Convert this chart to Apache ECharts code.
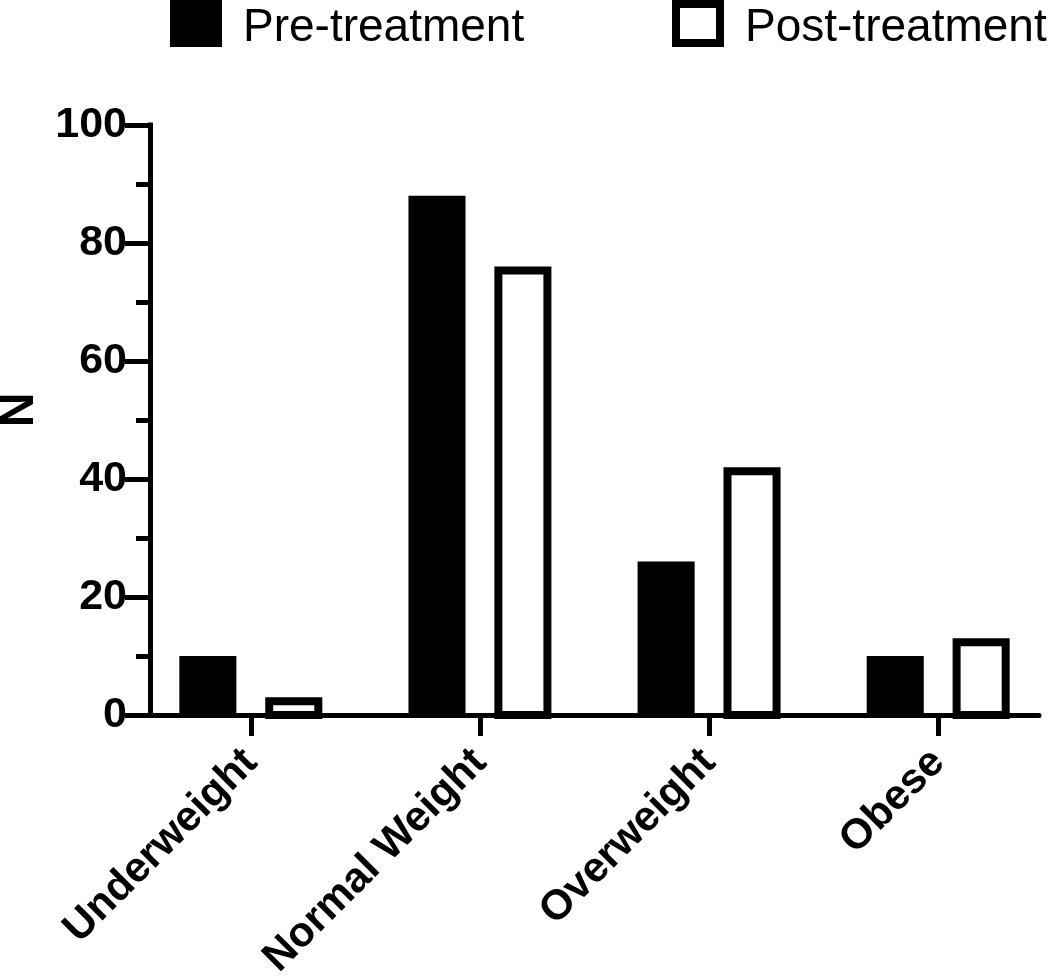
<!DOCTYPE html>
<html><head><meta charset="utf-8">
<script src="https://cdn.jsdelivr.net/npm/echarts@6/dist/echarts.min.js"></script>
<style>html,body{margin:0;padding:0;background:#fff}#c{width:1050px;height:977px}</style>
</head><body><div id="c"></div>
<script>
const categories = ['Underweight', 'Normal Weight', 'Overweight', 'Obese'];
const preTreatment = [10, 88, 26, 10];
const postTreatment = [3, 76, 42, 13];
const yTicks = [0, 20, 40, 60, 80, 100];
const seriesNames = ['Pre-treatment', 'Post-treatment'];

const FONT = '"Liberation Sans", Arial, Helvetica, sans-serif';
const BAR_W = 0.249, BAR_OFF = 0.1875, BORDER = 8;
const catIdx = categories.map((c, i) => i);

function barRenderer(side, hollow) {
  return function (params, api) {
    const i = api.value(0), v = api.value(1);
    const top = api.coord([i, v]);
    const base = api.coord([i, 0]);
    const band = api.size([1, 0])[0];
    const w = band * BAR_W;
    const x0 = top[0] + side * band * BAR_OFF - w / 2;
    if (!hollow) {
      return { type: 'rect', shape: { x: x0, y: top[1], width: w, height: base[1] - top[1] }, style: { fill: '#000' } };
    }
    const h = BORDER / 2;
    return { type: 'rect', shape: { x: x0 + h, y: top[1] + h, width: w - BORDER, height: Math.max(0, base[1] - top[1] - h) },
      style: { fill: '#fff', stroke: '#000', lineWidth: BORDER } };
  };
}

const chart = echarts.init(document.getElementById('c'), null, { renderer: 'canvas' });
const legendText = { fontSize: 46, color: '#000', fontFamily: FONT,
  rich: { t: { fontSize: 46, color: '#000', fontFamily: FONT, padding: [10, 0, 0, 16] } } };
chart.setOption({
  animation: false,
  backgroundColor: '#fff',
  legend: [
    { left: 170, top: 0, padding: 0, itemWidth: 52, itemHeight: 47, selectedMode: false, textStyle: legendText,
      formatter: '{t|{name}}',
      data: [{ name: seriesNames[0], icon: 'rect', itemStyle: { color: '#000' } }] },
    { left: 672, top: 0, padding: 0, itemWidth: 52, itemHeight: 47, selectedMode: false, textStyle: legendText,
      formatter: '{t|{name}}',
      data: [{ name: seriesNames[1], icon: 'path://M0,0H52V47H0Z M8,8V39H44V8Z', itemStyle: { color: '#000' } }] }
  ],
  grid: { left: 150, right: 11, top: 125, bottom: 262, containLabel: false, outerBoundsMode: 'none' },
  xAxis: {
    type: 'value', min: -0.44, max: 3.44,
    splitLine: { show: false },
    axisLine: { show: true, lineStyle: { color: '#000', width: 5 } },
    axisTick: { show: true, customValues: catIdx, length: 21, lineStyle: { color: '#000', width: 5 } },
    axisLabel: { customValues: catIdx, formatter: v => categories[Math.round(v)], rotate: 45, margin: 41,
      fontSize: 42, fontWeight: 'bold', color: '#000', fontFamily: FONT }
  },
  yAxis: {
    type: 'value', min: yTicks[0], max: yTicks[yTicks.length - 1], interval: yTicks[1] - yTicks[0],
    name: 'N', nameLocation: 'middle', nameGap: 106,
    nameTextStyle: { fontSize: 48, fontWeight: 'bold', color: '#000', fontFamily: FONT, padding: [0, 0, 0, 20] },
    splitLine: { show: false },
    axisLine: { show: true, onZero: false, lineStyle: { color: '#000', width: 5, cap: 'square' } },
    axisTick: { show: true, length: 25, lineStyle: { color: '#000', width: 5 } },
    minorTick: { show: true, splitNumber: 2, length: 14, lineStyle: { color: '#000', width: 5 } },
    minorSplitLine: { show: false },
    axisLabel: { margin: 23, fontSize: 43, fontWeight: 'bold', color: '#000', fontFamily: FONT }
  },
  series: [
    { name: seriesNames[0], type: 'custom', renderItem: barRenderer(-1, false),
      encode: { x: 0, y: 1 }, data: preTreatment.map((v, i) => [i, v]) },
    { name: seriesNames[1], type: 'custom', renderItem: barRenderer(1, true),
      encode: { x: 0, y: 1 }, data: postTreatment.map((v, i) => [i, v]) }
  ]
});
</script></body></html>
